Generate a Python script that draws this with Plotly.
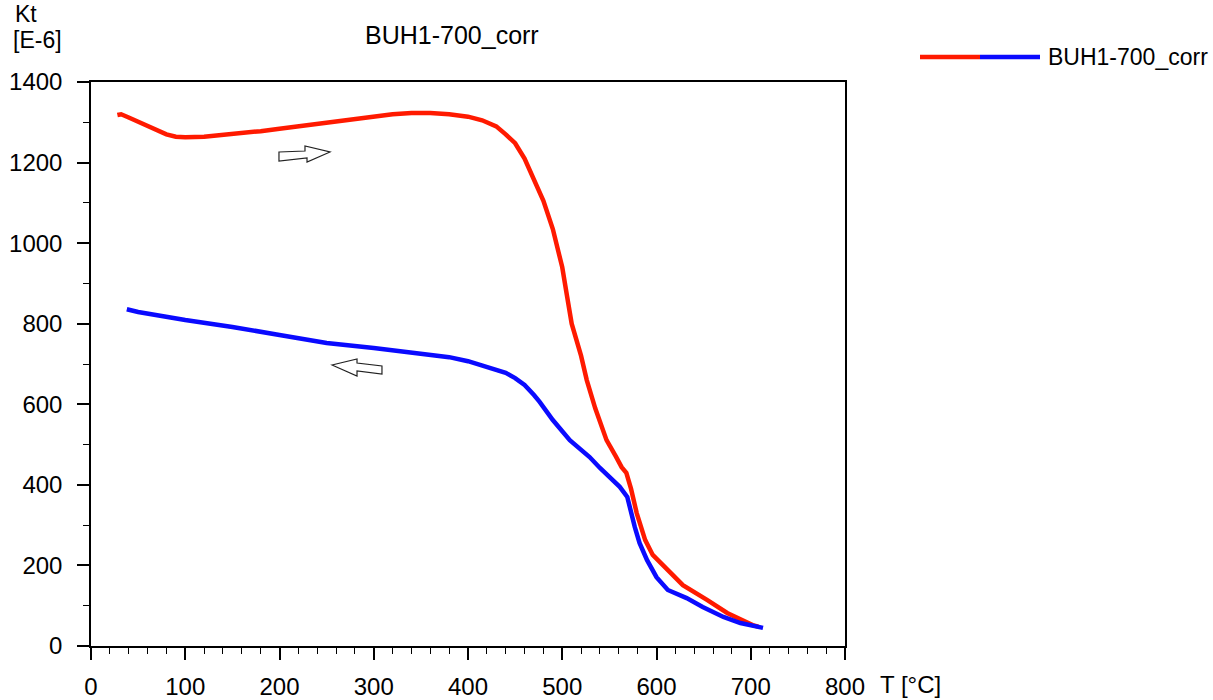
import plotly.graph_objects as go

# Heating curve (red)
heat_T = [28, 32, 40, 50, 60, 70, 80, 90, 100, 120, 140, 160, 180, 200, 220, 240, 260, 280, 300,
          320, 340, 360, 380, 400, 415, 430, 440, 450, 460, 470, 480, 490, 500, 505, 510, 520, 526,
          535, 547, 557, 563, 568, 573, 579, 584, 588, 596, 611, 628, 654, 675, 702, 708]
heat_K = [1318, 1320, 1312, 1302, 1292, 1280, 1270, 1264, 1263, 1264, 1268, 1272, 1278, 1284, 1290,
          1296, 1302, 1310, 1315, 1320, 1323, 1323, 1320, 1314, 1305, 1290, 1270, 1248, 1210, 1160,
          1105, 1035, 940, 870, 800, 720, 660, 590, 511, 470, 444, 430, 390, 330, 290, 263, 226, 189,
          151, 114, 82, 52, 48]

# Cooling curve (blue)
cool_T = [38, 50, 100, 150, 200, 250, 300, 350, 380, 400, 420, 440, 450, 460, 470, 476, 490, 508,
          529, 540, 561, 569, 577, 582, 590, 600, 612, 632, 649, 671, 689, 713]
cool_K = [836, 829, 809, 792, 772, 752, 740, 727, 717, 707, 692, 678, 665, 648, 623, 606, 561, 511,
          469, 442, 395, 370, 295, 256, 213, 171, 139, 119, 97, 72, 57, 45]

x_ticks = [0, 100, 200, 300, 400, 500, 600, 700, 800]
y_ticks = [0, 200, 400, 600, 800, 1000, 1200, 1400]
series_name = "BUH1-700_corr"

FONT = "Liberation Sans, Arial, sans-serif"
W, H = 1213, 700
L, R, T, B = 91, 845, 82, 646

def px(xp, yp):
    return (xp - L) / (R - L), (B - yp) / (B - T)

fig = go.Figure()
fig.add_trace(go.Scatter(x=heat_T, y=heat_K, mode="lines", line=dict(color="#ff1a00", width=4.5),
                         showlegend=False, name=series_name))
fig.add_trace(go.Scatter(x=cool_T, y=cool_K, mode="lines", line=dict(color="#0a0aff", width=4.5),
                         showlegend=False, name=series_name))

axis_common = dict(showline=True, linecolor="black", linewidth=1.5, mirror=True, showgrid=False,
                   zeroline=False, ticks="outside", tickcolor="black", tickwidth=1.5,
                   automargin=False,
                   tickfont=dict(family=FONT, size=24, color="black"))
fig.update_xaxes(range=[0, 800], tickvals=x_ticks, ticklen=12, ticklabelstandoff=6,
                 minor=dict(dtick=20, ticklen=6, ticks="outside", tickcolor="black", tickwidth=1.2),
                 **axis_common)
fig.update_yaxes(range=[0, 1400], tickvals=y_ticks, ticklen=12, ticklabelstandoff=10,
                 minor=dict(dtick=100, ticklen=6, ticks="outside", tickcolor="black", tickwidth=1.2),
                 **axis_common)

shapes = []
# Right-pointing and left-pointing outline arrows
ra = [(279, 152), (305, 151), (305, 146), (330, 152), (307, 162), (307, 158), (279, 161)]
la = [(332, 365), (357, 359), (357, 363), (382, 366), (382, 374), (357, 371), (357, 376)]
for pts in (ra, la):
    p = [px(*q) for q in pts]
    path = "M " + " L ".join(f"{a:.4f},{b:.4f}" for a, b in p) + " Z"
    shapes.append(dict(type="path", xref="paper", yref="paper", path=path,
                       line=dict(color="#222", width=1.2), fillcolor="white"))
# legend line (red then blue)
lx0, ly = px(920, 57)
lx1, _ = px(980, 57)
lx2, _ = px(1040, 57)
shapes.append(dict(type="line", xref="paper", yref="paper", x0=lx0, x1=lx1, y0=ly, y1=ly,
                   line=dict(color="#ff1a00", width=4.5)))
shapes.append(dict(type="line", xref="paper", yref="paper", x0=lx1, x1=lx2, y0=ly, y1=ly,
                   line=dict(color="#0a0aff", width=4.5)))

def ann(text, xp, yp, xanchor="left", size=23):
    xx, yy = px(xp, yp)
    return dict(text=text, x=xx, y=yy, xref="paper", yref="paper", xanchor=xanchor,
                yanchor="middle", showarrow=False, font=dict(family=FONT, size=size, color="black"))

annotations = [
    ann("Kt", 13, 14, size=23),
    ann("[E-6]", 11, 40, size=23),
    ann(series_name, 452, 35, xanchor="center", size=25),
    ann(series_name, 1046, 57, size=23),
    ann("T [°C]", 878, 684, size=24),
]

fig.update_layout(width=W, height=H, margin=dict(l=L, r=W - R, t=T, b=H - B),
                  paper_bgcolor="white", plot_bgcolor="white",
                  shapes=shapes, annotations=annotations, showlegend=False)

fig.write_html("out.html")
